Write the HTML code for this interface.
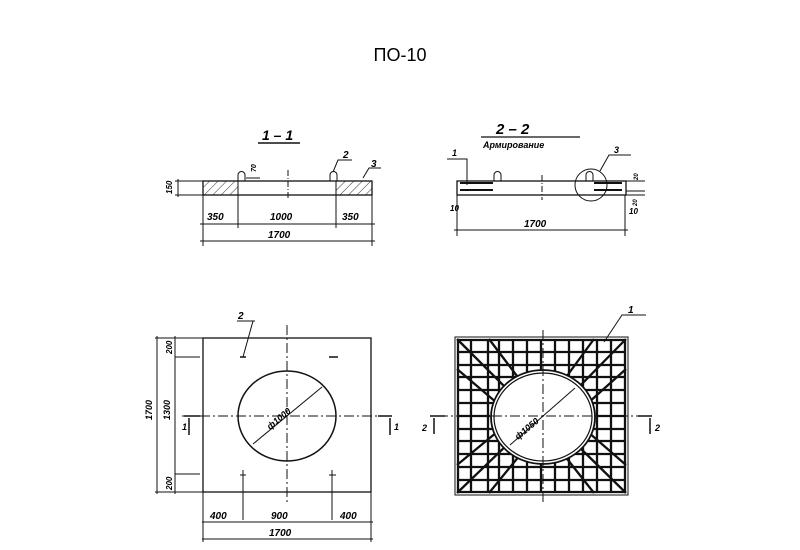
<!DOCTYPE html>
<html><head><meta charset="utf-8"><style>
html,body{margin:0;padding:0;background:#fff;}
svg{display:block;}
text{font-family:"Liberation Sans",sans-serif;font-style:italic;font-weight:bold;fill:#000;}
</style></head><body>
<svg width="800" height="550" viewBox="0 0 800 550" xmlns="http://www.w3.org/2000/svg">
<defs>
<pattern id="h" width="6" height="6" patternUnits="userSpaceOnUse" patternTransform="rotate(45)">
<line x1="0" y1="0" x2="0" y2="6" stroke="#333" stroke-width="1"/></pattern>
</defs>
<text x="400" y="61" text-anchor="middle" style="font-style:normal;font-weight:normal;font-size:18px">ПО-10</text>

<!-- Section 1-1 -->
<g stroke="#111" fill="none" stroke-width="1">
<text x="262" y="140" font-size="14" stroke="none">1 – 1</text>
<line x1="258" y1="143" x2="300" y2="143" stroke-width="1.5"/>
<rect x="203" y="181" width="35" height="14" fill="url(#h)"/>
<rect x="336" y="181" width="36" height="14" fill="url(#h)"/>
<rect x="203" y="181" width="169" height="14" stroke-width="1.3"/>
<path d="M238 181 V175 a3.5 3.5 0 0 1 7 0 V181"/>
<path d="M330 181 V175 a3.5 3.5 0 0 1 7 0 V181"/>
<line x1="288" y1="170" x2="288" y2="200" stroke-dasharray="6,2,1,2"/>
<path d="M333 172 L338 160 H352"/>
<path d="M363 178 L369 168 H381"/>
<text x="343" y="158" font-size="10" stroke="none">2</text>
<text x="371" y="167" font-size="10" stroke="none">3</text>
<line x1="246" y1="178" x2="260" y2="178"/>
<text x="250" y="170" font-size="7" stroke="none" transform="rotate(-90 254 168)">70</text>
<line x1="175" y1="181" x2="203" y2="181"/><line x1="175" y1="195" x2="203" y2="195"/>
<line x1="178" y1="179" x2="178" y2="197"/>
<text x="162" y="192" font-size="8" stroke="none" transform="rotate(-90 168 188)">150</text>
<line x1="203" y1="195" x2="203" y2="246"/><line x1="372" y1="195" x2="372" y2="246"/>
<line x1="238" y1="181" x2="238" y2="228"/><line x1="336" y1="181" x2="336" y2="228"/>
<line x1="200" y1="224" x2="375" y2="224"/>
<line x1="200" y1="241" x2="375" y2="241"/>
<text x="207" y="220" font-size="10" stroke="none">350</text>
<text x="270" y="220" font-size="10" stroke="none">1000</text>
<text x="342" y="220" font-size="10" stroke="none">350</text>
<text x="268" y="238" font-size="10" stroke="none">1700</text>
</g>

<!-- Section 2-2 -->
<g stroke="#111" fill="none" stroke-width="1">
<text x="496" y="134" font-size="15" stroke="none">2  –  2</text>
<line x1="481" y1="137" x2="580" y2="137" stroke-width="1.2"/>
<text x="483" y="148" font-size="9" stroke="none">Армирование</text>
<rect x="457" y="181" width="169" height="14" stroke-width="1.3"/>
<path d="M494 181 V175 a3.5 3.5 0 0 1 7 0 V181"/>
<path d="M586 181 V175 a3.5 3.5 0 0 1 7 0 V181"/>
<line x1="460" y1="183" x2="493" y2="183" stroke-width="2"/>
<line x1="460" y1="190" x2="493" y2="190" stroke-width="2"/>
<line x1="594" y1="183" x2="622" y2="183" stroke-width="2"/>
<line x1="594" y1="190" x2="622" y2="190" stroke-width="2"/>
<circle cx="591" cy="185" r="16"/>
<line x1="542" y1="175" x2="542" y2="200" stroke-dasharray="6,2,1,2"/>
<path d="M447 159 H467 L467 185"/>
<text x="452" y="156" font-size="9" stroke="none">1</text>
<path d="M600 171 L609 155 H631"/>
<text x="614" y="153" font-size="9" stroke="none">3</text>
<line x1="626" y1="181" x2="645" y2="181"/><line x1="626" y1="191" x2="645" y2="191"/>
<line x1="626" y1="195" x2="645" y2="195"/>
<text x="632" y="178" font-size="6" stroke="none" transform="rotate(-90 636 176)">20</text>
<text x="631" y="204" font-size="6" stroke="none" transform="rotate(-90 635 202)">20</text>
<line x1="457" y1="195" x2="457" y2="236"/><line x1="625" y1="195" x2="625" y2="236"/>
<line x1="454" y1="230" x2="628" y2="230"/>
<text x="450" y="211" font-size="8" stroke="none">10</text>
<text x="629" y="214" font-size="8" stroke="none">10</text>
<text x="524" y="227" font-size="10" stroke="none">1700</text>
</g>

<!-- Left plan -->
<g stroke="#111" fill="none" stroke-width="1">
<rect x="203" y="338" width="168" height="154" stroke-width="1.3"/>
<ellipse cx="287" cy="416" rx="49" ry="45" stroke-width="1.5"/>
<line x1="287" y1="325" x2="287" y2="505" stroke-dasharray="10,3,2,3"/>
<line x1="182" y1="416" x2="393" y2="416" stroke-dasharray="10,3,2,3"/>
<line x1="253" y1="444" x2="322" y2="387"/>
<text x="0" y="0" font-size="9" stroke="none" transform="translate(270 430) rotate(-40)">ф1000</text>
<line x1="240" y1="357" x2="246" y2="357" stroke-width="1.5"/>
<line x1="329" y1="357" x2="338" y2="357" stroke-width="1.5"/>
<line x1="243" y1="357" x2="253" y2="321"/><line x1="237" y1="321" x2="255" y2="321"/>
<text x="238" y="319" font-size="10" stroke="none">2</text>
<line x1="240" y1="475" x2="246" y2="475"/><line x1="243" y1="470" x2="243" y2="520"/>
<line x1="329" y1="475" x2="336" y2="475"/><line x1="332" y1="470" x2="332" y2="520"/>
<line x1="184" y1="416" x2="200" y2="416" stroke-width="1.5"/>
<line x1="189" y1="418" x2="189" y2="435" stroke-width="1.5"/>
<text x="182" y="430" font-size="9" stroke="none">1</text>
<line x1="378" y1="416" x2="392" y2="416" stroke-width="1.5"/>
<line x1="390" y1="418" x2="390" y2="435" stroke-width="1.5"/>
<text x="394" y="430" font-size="9" stroke="none">1</text>
<line x1="155" y1="338" x2="203" y2="338"/><line x1="155" y1="492" x2="203" y2="492"/>
<line x1="175" y1="357" x2="200" y2="357"/><line x1="175" y1="474" x2="200" y2="474"/>
<line x1="157" y1="336" x2="157" y2="494"/>
<line x1="175" y1="336" x2="175" y2="494"/>
<text x="140" y="412" font-size="9" stroke="none" transform="rotate(-90 150 410)">1700</text>
<text x="158" y="412" font-size="9" stroke="none" transform="rotate(-90 168 410)">1300</text>
<text x="162" y="352" font-size="8" stroke="none" transform="rotate(-90 168 348)">200</text>
<text x="162" y="488" font-size="8" stroke="none" transform="rotate(-90 168 484)">200</text>
<line x1="203" y1="492" x2="203" y2="542"/><line x1="371" y1="492" x2="371" y2="542"/>
<line x1="202" y1="522" x2="373" y2="522"/>
<line x1="202" y1="539" x2="373" y2="539"/>
<text x="210" y="519" font-size="10" stroke="none">400</text>
<text x="271" y="519" font-size="10" stroke="none">900</text>
<text x="340" y="519" font-size="10" stroke="none">400</text>
<text x="269" y="536" font-size="10" stroke="none">1700</text>
</g>

<!-- Right plan -->
<g stroke="#111" fill="none" stroke-width="1">
<rect x="455" y="337" width="173" height="158" stroke-width="1"/>
<g stroke-width="2.3">
<line x1="458" y1="339" x2="458" y2="493"/><line x1="471" y1="339" x2="471" y2="493"/>
<line x1="488" y1="339" x2="488" y2="493"/><line x1="499" y1="339" x2="499" y2="493"/>
<line x1="513" y1="339" x2="513" y2="493"/><line x1="527" y1="339" x2="527" y2="493"/>
<line x1="555" y1="339" x2="555" y2="493"/><line x1="569" y1="339" x2="569" y2="493"/>
<line x1="583" y1="339" x2="583" y2="493"/><line x1="597" y1="339" x2="597" y2="493"/>
<line x1="611" y1="339" x2="611" y2="493"/><line x1="625" y1="339" x2="625" y2="493"/>
<line x1="541" y1="339" x2="541" y2="493"/>
<line x1="457" y1="340" x2="626" y2="340"/><line x1="457" y1="352" x2="626" y2="352"/>
<line x1="457" y1="365" x2="626" y2="365"/><line x1="457" y1="377" x2="626" y2="377"/>
<line x1="457" y1="390" x2="626" y2="390"/><line x1="457" y1="403" x2="626" y2="403"/>
<line x1="457" y1="429" x2="626" y2="429"/><line x1="457" y1="441" x2="626" y2="441"/>
<line x1="457" y1="454" x2="626" y2="454"/><line x1="457" y1="467" x2="626" y2="467"/>
<line x1="457" y1="480" x2="626" y2="480"/><line x1="457" y1="492" x2="626" y2="492"/>
<line x1="457" y1="416" x2="490" y2="416"/><line x1="596" y1="416" x2="626" y2="416"/>
</g>
<g stroke-width="2.3">
<line x1="457" y1="339" x2="510" y2="392"/><line x1="626" y1="339" x2="574" y2="392"/>
<line x1="457" y1="493" x2="510" y2="442"/><line x1="626" y1="493" x2="574" y2="442"/>
<line x1="489" y1="339" x2="520" y2="380"/><line x1="594" y1="339" x2="564" y2="380"/>
<line x1="457" y1="369" x2="497" y2="403"/><line x1="626" y1="369" x2="588" y2="403"/>
<line x1="489" y1="493" x2="520" y2="455"/><line x1="594" y1="493" x2="564" y2="455"/>
<line x1="457" y1="465" x2="497" y2="432"/><line x1="626" y1="465" x2="588" y2="432"/>
</g>
<ellipse cx="543" cy="417" rx="52" ry="47" fill="#fff" stroke-width="1.8"/>
<ellipse cx="543" cy="417" rx="49" ry="44" stroke-width="1.2"/>
<line x1="543" y1="330" x2="543" y2="505" stroke-dasharray="10,3,2,3"/>
<line x1="438" y1="416" x2="645" y2="416" stroke-dasharray="10,3,2,3"/>
<line x1="510" y1="445" x2="575" y2="388"/>
<text x="0" y="0" font-size="9" stroke="none" transform="translate(518 440) rotate(-40)">ф1050</text>
<line x1="430" y1="416" x2="445" y2="416" stroke-width="1.5"/>
<line x1="434" y1="418" x2="434" y2="434" stroke-width="1.5"/>
<text x="422" y="431" font-size="9" stroke="none">2</text>
<line x1="638" y1="416" x2="652" y2="416" stroke-width="1.5"/>
<line x1="650" y1="418" x2="650" y2="434" stroke-width="1.5"/>
<text x="655" y="431" font-size="9" stroke="none">2</text>
<path d="M604 342 L622 315 H646"/>
<text x="628" y="313" font-size="10" stroke="none">1</text>
</g>
</svg>
</body></html>
